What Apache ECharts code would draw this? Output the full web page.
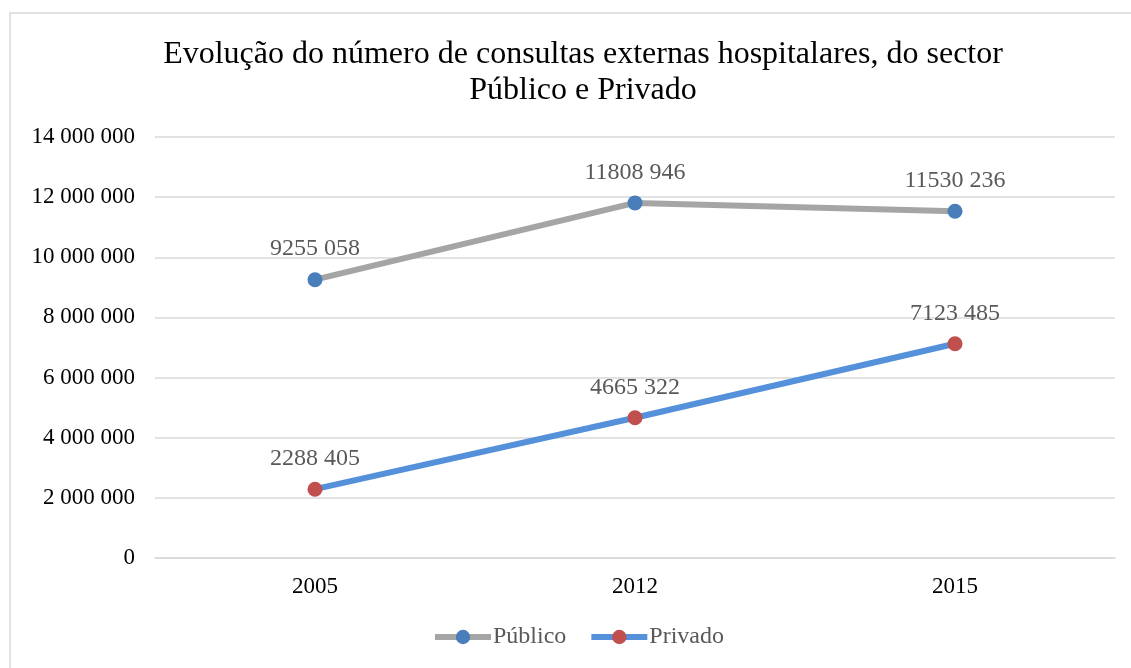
<!DOCTYPE html>
<html>
<head>
<meta charset="utf-8">
<script src="https://cdn.jsdelivr.net/npm/echarts@6/dist/echarts.min.js"></script>
<style>
  html, body { margin: 0; padding: 0; background: #fff; }
  #chart { width: 1131px; height: 668px; }
</style>
</head>
<body>
<div id="chart"></div>
<script>
// dados
const anos = ["2005", "2012", "2015"]
const publico = [9255058, 11808946, 11530236]
const privado = [2288405, 4665322, 7123485]

const fonte = "Liberation Serif, Times New Roman, serif"

// rótulo estilo "9255 058"
const fmtLabel = (v) => Math.floor(v / 1000) + " " + String(v % 1000).padStart(3, "0")
// eixo estilo "14 000 000"
const fmtEixo = (v) => String(v).replace(/\B(?=(\d{3})+(?!\d))/g, " ")

const chart = echarts.init(document.getElementById("chart"))

const labelStyle = {
  show: true,
  position: "top",
  distance: 11,
  fontFamily: fonte,
  fontSize: 24,
  color: "#595959",
  formatter: (p) => fmtLabel(p.value),
}

const option = {
  animation: false,
  graphic: [
    {
      type: "rect",
      shape: { x: 10, y: 13, width: 1140, height: 680 },
      style: { fill: "none", stroke: "#d9d9d9", lineWidth: 1.5 },
    },
  ],
  title: {
    text: "Evolução do número de consultas externas hospitalares, do sector\nPúblico e Privado",
    left: 578,
    textAlign: "center",
    top: 32,
    textStyle: {
      fontFamily: fonte,
      fontSize: 32,
      fontWeight: "normal",
      color: "#000",
      lineHeight: 36,
    },
  },
  legend: {
    bottom: 14,
    left: 427,
    itemWidth: 56,
    itemHeight: 18,
    itemGap: 22,
    lineStyle: { width: 6 },
    textStyle: { fontFamily: fonte, fontSize: 24, color: "#595959", padding: [0, 0, 0, -3] },
    data: ["Público", "Privado"],
  },
  grid: {
    left: 155,
    right: 16,
    top: 137,
    bottom: 110,
  },
  xAxis: {
    type: "category",
    data: anos,
    boundaryGap: true,
    axisTick: { show: false },
    axisLine: { lineStyle: { color: "#d9d9d9", width: 1.5 } },
    axisLabel: { fontFamily: fonte, fontSize: 23, color: "#000", margin: 17 },
  },
  yAxis: {
    type: "value",
    min: 0,
    max: 14000000,
    interval: 2000000,
    axisLine: { show: false },
    axisTick: { show: false },
    splitLine: { lineStyle: { color: "#d9d9d9", width: 1.5 } },
    axisLabel: {
      fontFamily: fonte,
      fontSize: 23,
      color: "#000",
      margin: 20,
      formatter: fmtEixo,
    },
  },
  series: [
    {
      name: "Público",
      type: "line",
      data: publico,
      symbol: "circle",
      symbolSize: 15,
      lineStyle: { color: "#a5a5a5", width: 6 },
      itemStyle: { color: "#4a7ebb" },
      label: labelStyle,
    },
    {
      name: "Privado",
      type: "line",
      data: privado,
      symbol: "circle",
      symbolSize: 15,
      lineStyle: { color: "#5590da", width: 6 },
      itemStyle: { color: "#c0504d" },
      label: labelStyle,
    },
  ],
}

chart.setOption(option)
</script>
</body>
</html>
